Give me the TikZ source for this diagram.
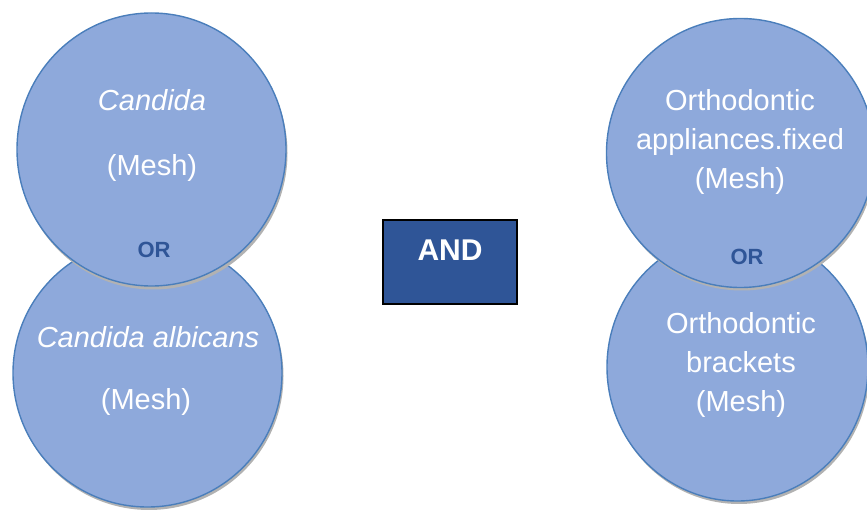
\documentclass[tikz,border=0pt]{standalone}
\usepackage{fontspec}
\setmainfont{Liberation Sans}
\definecolor{circfill}{HTML}{8EA9DB}
\definecolor{circline}{HTML}{4A7EBB}
\definecolor{andfill}{HTML}{2F5597}
\definecolor{ortext}{HTML}{2F5597}
\begin{document}
\begin{tikzpicture}[x=1pt,y=-1pt,
  bubble/.style={ellipse, draw=circline, line width=1.4pt, fill=circfill, inner sep=0pt},
  shade/.style={ellipse, fill=black!30, opacity=0.6, inner sep=0pt},
  lbl/.style={text=white, font=\fontsize{29}{39}\selectfont, align=center},
  orlbl/.style={text=ortext, font=\fontsize{22}{26}\selectfont\bfseries},
  andbox/.style={draw=black, line width=1.2pt, fill=andfill, minimum width=134pt, minimum height=84pt, inner sep=0pt}
]
\useasboundingbox (0,0) rectangle (867,510);
\clip (0,0) rectangle (867,510);
% left bottom
\fill[black!30] (149,376) ellipse [x radius=134.5pt, y radius=134pt];
\draw[circline, line width=1.4pt, fill=circfill] (147.5,373) ellipse [x radius=134.5pt, y radius=134pt];
\coordinate (lb) at (147.5,373);
% left top
\fill[black!30] (153,153) ellipse [x radius=134.5pt, y radius=136.5pt];
\draw[circline, line width=1.4pt, fill=circfill] (151.5,149.5) ellipse [x radius=134.5pt, y radius=136.5pt];
\coordinate (lt) at (151.5,149.5);
% right bottom
\fill[black!30] (739,370) ellipse [x radius=130.5pt, y radius=134pt];
\draw[circline, line width=1.4pt, fill=circfill] (737.5,367) ellipse [x radius=130.5pt, y radius=134pt];
\coordinate (rb) at (737.5,367);
% right top
\fill[black!30] (742,156) ellipse [x radius=134pt, y radius=134.5pt];
\draw[circline, line width=1.4pt, fill=circfill] (740.5,153) ellipse [x radius=134pt, y radius=134.5pt];
\coordinate (rt) at (740.5,153);
% texts left
\node[lbl] (t1) at (152,100) {\itshape Candida};
\node[lbl] (t2) at (152,168) {(Mesh)};
\node[orlbl] (or1) at (154,250) {OR};
\node[lbl] (t3) at (148,337) {\itshape Candida albicans};
\node[lbl] (t4) at (146,402) {(Mesh)};
% texts right
\node[lbl] (t5) at (740,142) {Orthodontic\\appliances.fixed\\(Mesh)};
\node[orlbl] (or2) at (747,257) {OR};
\node[lbl] (t6) at (741,365) {Orthodontic\\brackets\\(Mesh)};
% AND
\node[andbox] (and) at (450,262) {};
\node[text=white, font=\fontsize{30}{34}\selectfont\bfseries] (andt) at (450,250) {AND};
\end{tikzpicture}
\end{document}
